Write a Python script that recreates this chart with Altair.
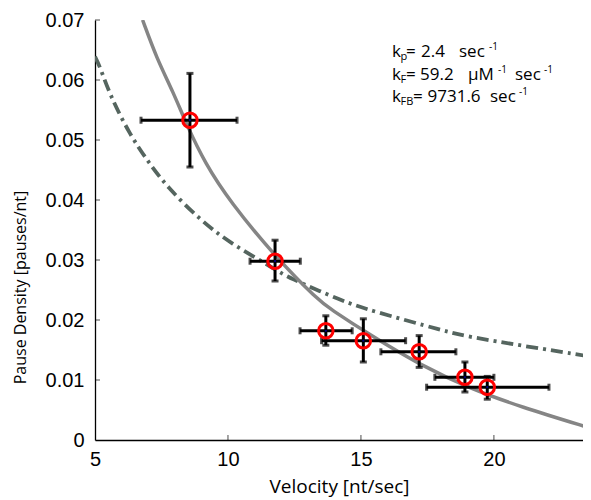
import altair as alt
import pandas as pd

# ---- data ----
vel      = [8.57, 11.77, 13.68, 15.09, 17.19, 18.91, 19.75]
dens     = [0.0533, 0.0298, 0.0182, 0.01655, 0.0147, 0.01045, 0.0088]
vel_lo   = [6.73, 10.83, 12.71, 13.52, 15.75, 17.78, 17.47]
vel_hi   = [10.34, 12.72, 14.67, 16.68, 18.57, 20.00, 22.07]
dens_lo  = [0.0455, 0.0265, 0.0158, 0.0130, 0.0121, 0.0080, 0.0068]
dens_hi  = [0.0611, 0.0333, 0.0207, 0.0202, 0.0174, 0.0130, 0.0106]

fit_v    = [6.79, 7.32, 7.94, 8.45, 9.14, 10.08, 11.77, 13.39, 13.83, 15.34, 17.22, 19.10, 20.98, 23.65]
fit_d    = [0.0700, 0.0636, 0.0580, 0.0525, 0.0461, 0.0397, 0.0306, 0.0233, 0.0219, 0.0175, 0.0125, 0.0086, 0.00555, 0.00195]

alt_v    = [5.00, 5.19, 5.56, 6.32, 7.00, 7.70, 8.95, 10.08, 11.77, 12.20, 14.33, 15.34, 18.20, 19.10, 23.65]
alt_d    = [0.0639, 0.0622, 0.0575, 0.0508, 0.0464, 0.0422, 0.0367, 0.0328, 0.0285, 0.0272, 0.0231, 0.0216, 0.0181, 0.0171, 0.0139]

y_ticks  = [0.01, 0.02, 0.03, 0.04, 0.05, 0.06, 0.07]
x_ticks  = [10, 15, 20]
y_labels = [0, 0.01, 0.02, 0.03, 0.04, 0.05, 0.06, 0.07]
x_labels = [5, 10, 15, 20]

XMIN, XMAX = 5, 23.35
YMIN, YMAX = 0, 0.07

pts = pd.DataFrame({"v": vel, "d": dens, "vlo": vel_lo, "vhi": vel_hi,
                    "dlo": dens_lo, "dhi": dens_hi})
fit = pd.DataFrame({"v": fit_v, "d": fit_d})
alt_df = pd.DataFrame({"v": alt_v, "d": alt_d})

xs = alt.Scale(domain=[XMIN, XMAX], nice=False, zero=False)
ys = alt.Scale(domain=[YMIN, YMAX], nice=False, zero=False)

X = alt.X("v:Q", scale=xs,
          axis=alt.Axis(values=x_labels, format="d", title="Velocity [nt/sec]",
                        ticks=False, tickSize=0, grid=False, labelPadding=9,
                        labelFlush=False, labelOverlap=False,
                        titlePadding=8))
Y = alt.Y("d:Q", scale=ys,
          axis=alt.Axis(values=y_labels, format=".2~f",
                        title="Pause Density [pauses/nt]",
                        ticks=False, tickSize=0, grid=False, labelPadding=11,
                        labelFlush=False, labelOverlap=False,
                        titleX=-75, titleY=267, titleAngle=-90,
                        titleAlign="center", titleBaseline="middle"))

fit_line = alt.Chart(fit).mark_line(color="#858585", strokeWidth=3.5, interpolate="basis", clip=True).encode(
    x=X, y=Y)
alt_line = alt.Chart(alt_df).mark_line(color="#55655f", strokeWidth=3.8, strokeDash=[12, 5, 3, 5],
                                       interpolate="basis", clip=True).encode(
    x=alt.X("v:Q", scale=xs), y=alt.Y("d:Q", scale=ys))

hbar = alt.Chart(pts).mark_rule(color="black", strokeWidth=3).encode(
    x=alt.X("vlo:Q", scale=xs), x2="vhi:Q", y=alt.Y("d:Q", scale=ys))
vbar = alt.Chart(pts).mark_rule(color="black", strokeWidth=3).encode(
    y=alt.Y("dlo:Q", scale=ys), y2="dhi:Q", x=alt.X("v:Q", scale=xs))

cap_l = alt.Chart(pts).mark_tick(color="black", thickness=3, size=7, orient="vertical").encode(
    x=alt.X("vlo:Q", scale=xs), y=alt.Y("d:Q", scale=ys))
cap_r = alt.Chart(pts).mark_tick(color="black", thickness=3, size=7, orient="vertical").encode(
    x=alt.X("vhi:Q", scale=xs), y=alt.Y("d:Q", scale=ys))
cap_b = alt.Chart(pts).mark_tick(color="black", thickness=3, size=7, orient="horizontal").encode(
    x=alt.X("v:Q", scale=xs), y=alt.Y("dlo:Q", scale=ys))
cap_t = alt.Chart(pts).mark_tick(color="black", thickness=3, size=7, orient="horizontal").encode(
    x=alt.X("v:Q", scale=xs), y=alt.Y("dhi:Q", scale=ys))

circles = alt.Chart(pts).mark_point(shape="circle", size=210, color="#ff0000", strokeWidth=3,
                                    filled=False, opacity=1).encode(
    x=alt.X("v:Q", scale=xs), y=alt.Y("d:Q", scale=ys))
dots = alt.Chart(pts).mark_point(shape="circle", size=5, color="#00007f", filled=True, opacity=1).encode(
    x=alt.X("v:Q", scale=xs), y=alt.Y("d:Q", scale=ys))

ytk = alt.Chart(pd.DataFrame({"t": y_ticks})).mark_tick(color="black", thickness=1, size=5,
                                                         orient="horizontal", xOffset=2.5).encode(
    x=alt.datum(XMIN, scale=xs), y=alt.Y("t:Q", scale=ys))
xtk = alt.Chart(pd.DataFrame({"t": x_ticks})).mark_tick(color="black", thickness=1, size=5,
                                                         orient="vertical", yOffset=-2.5).encode(
    y=alt.datum(YMIN, scale=ys), x=alt.X("t:Q", scale=xs))

# ---- annotation (rich text pieces) ----
FONT_ANN = "Open Sans"
B1, B2, B3 = 37, 60, 82
M, SB, SP = 17, 11, 10
pieces = [
    # (text, x, y, size)
    ("k", 297, B1, M), ("p", 305.5, B1 + 3, SB), ("=", 311, B1, M), ("2.4", 326, B1, M),
    ("sec", 364, B1, M), ("-1", 394, B1 - 7, SP),
    ("k", 297, B2, M), ("F", 305.5, B2 + 3, SB), ("=", 311, B2, M), ("59.2", 325, B2, M),
    ("\u00b5M", 373, B2, M), ("-1", 403, B2 - 7, SP),
    ("sec", 420, B2, M), ("-1", 449, B2 - 7, SP),
    ("k", 297, B3, M), ("FB", 305.5, B3 + 3, SB), ("=", 318, B3, M), ("9731.6", 332.5, B3, M),
    ("sec", 395, B3, M), ("-1", 424, B3 - 7, SP),
]
ann_layers = []
for txt, px, py, fs in pieces:
    ann_layers.append(
        alt.Chart(pd.DataFrame({"t": [txt]})).mark_text(
            align="left", baseline="alphabetic", font=FONT_ANN, fontSize=fs, color="black"
        ).encode(x=alt.value(px), y=alt.value(py), text="t:N")
    )

chart = alt.layer(alt_line, fit_line, hbar, vbar, cap_l, cap_r, cap_b, cap_t, circles, dots,
                  ytk, xtk, *ann_layers).properties(
    width=488, height=420,
    autosize=alt.AutoSizeParams(type="none"),
    padding={"left": 87, "top": 12, "right": 0, "bottom": 58},
).configure_view(stroke=None).configure_axis(
    domainColor="black", domainWidth=1.3,
    labelFont="Liberation Sans", labelFontSize=20, labelColor="black",
    titleFont="Open Sans", titleFontWeight="normal", titleColor="black",
).configure_axisX(titleFontSize=19).configure_axisY(labelBaseline="middle", titleFontSize=16)

chart.save("out.html", embed_options={"renderer": "svg", "actions": False})
